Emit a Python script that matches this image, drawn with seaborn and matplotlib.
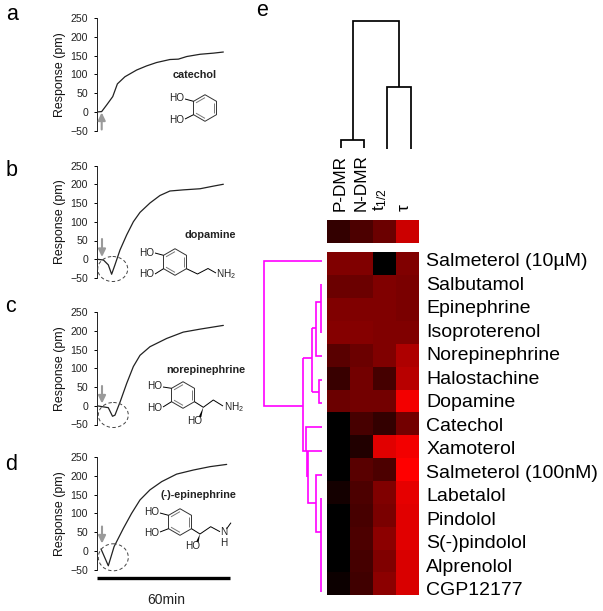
import numpy as np
import pandas as pd
import seaborn as sns
import matplotlib.pyplot as plt
from matplotlib.colors import LinearSegmentedColormap
from matplotlib.patches import Ellipse, Polygon

# time traces (minutes, pm)
catechol_t = [0, 2.1, 4.4, 7.1, 9.2, 12.6, 17.9, 22.4, 26.9, 32.9, 36.7, 40.5, 46.5, 52.5, 57]
catechol_y = [0, 1, 19, 41, 75, 94, 112, 123, 132, 140, 141, 148, 154, 157, 160]
dopamine_t = [0, 2.9, 5.1, 6.6, 8.1, 10.4, 13.4, 16.4, 19.4, 23.9, 28.4, 32.9, 38.9, 46.5, 52.5, 57]
dopamine_y = [0, -2, -15, -40, -15, 25, 65, 100, 125, 150, 170, 182, 185, 188, 195, 200]
norepi_t = [0, 5.1, 7.0, 8.1, 10.4, 13.4, 16.4, 19.4, 23.9, 31.4, 38.9, 46.5, 57]
norepi_y = [0, -5, -28, -25, 10, 60, 105, 135, 158, 180, 197, 205, 215]
epi_t = [1.8, 5.1, 7.7, 11.9, 15.6, 19.4, 23.9, 29.2, 35.9, 43.5, 51, 58.5]
epi_y = [5, -40, 11, 60, 100, 136, 163, 185, 205, 216, 225, 231]

y_ticks = [-50, 0, 50, 100, 150, 200, 250]

# heat map values (0 = black, 1 = red)
drugs = ['Salmeterol (10µM)', 'Salbutamol', 'Epinephrine', 'Isoproterenol', 'Norepinephrine',
         'Halostachine', 'Dopamine', 'Catechol', 'Xamoterol', 'Salmeterol (100nM)', 'Labetalol',
         'Pindolol', 'S(-)pindolol', 'Alprenolol', 'CGP12177']
p_dmr = [.50, .42, .50, .52, .35, .22, .42, 0, 0, 0, .08, 0, 0, 0, .05]
n_dmr = [.50, .42, .50, .52, .42, .45, .45, .28, .13, .35, .30, .28, .30, .27, .25]
t_half = [0, .50, .50, .50, .50, .27, .45, .20, .88, .30, .50, .48, .55, .50, .55]
tau = [.50, .48, .48, .50, .68, .72, .95, .45, .95, 1.0, .90, .88, .88, .85, .85]
strip_values = [.20, .30, .42, .80]
col_labels = ['P-DMR', 'N-DMR', 't$_{1/2}$', 'τ']

W, H = 603, 611
sns.set_style('white')
plt.rcParams['font.family'] = ['Liberation Sans', 'DejaVu Sans']
plt.rcParams['mathtext.default'] = 'regular'
plt.rcParams['text.color'] = 'black'
plt.rcParams['axes.labelcolor'] = '#111111'
plt.rcParams['xtick.color'] = 'black'
plt.rcParams['ytick.color'] = 'black'
plt.rcParams['axes.edgecolor'] = '#222222'

fig = plt.figure(figsize=(W / 100, H / 100), dpi=100)


def box(x0, y0, x1, y1):
    # pixel box -> figure fraction
    return [x0 / W, 1 - y1 / H, (x1 - x0) / W, (y1 - y0) / H]


# the four traces
panels = [(catechol_t, catechol_y, 18.3, 130.7),
          (dopamine_t, dopamine_y, 165.5, 278),
          (norepi_t, norepi_y, 312.3, 424.5),
          (epi_t, epi_y, 457.3, 569.5)]
for t, y, top, bottom in panels:
    ax = fig.add_axes(box(97, top, 230, bottom))
    sns.lineplot(x=t, y=y, color='#222222', lw=0.9, ax=ax)
    ax.set_xlim(0, 60)
    ax.set_ylim(-50, 250)
    ax.set_xticks([])
    ax.set_yticks(y_ticks)
    ax.tick_params(axis='y', left=True, length=2.5, width=0.7, labelsize=7.6, pad=4, labelcolor='#222222')
    ax.set_ylabel('Response (pm)', fontsize=8.9, labelpad=3)
    sns.despine(ax=ax, bottom=True)
    ax.spines['left'].set_linewidth(0.7)
    ax.patch.set_alpha(0)

# heat map and top strip
cmap = LinearSegmentedColormap.from_list('blackred', ['#000000', '#ff0000'])
df = pd.DataFrame({'P': p_dmr, 'N': n_dmr, 't': t_half, 'tau': tau}, index=drugs)
ax_h = fig.add_axes(box(327, 252.3, 419.3, 595.3))
sns.heatmap(df, cmap=cmap, vmin=0, vmax=1, cbar=False, xticklabels=False, yticklabels=False, ax=ax_h)
ax_h.yaxis.tick_right()
# the labels run a little wider than the rows
ax_h.set_yticks((260 + 23.5 * np.arange(len(drugs)) - 252.3) / 22.87)
ax_h.set_yticklabels(drugs, fontsize=14, rotation=0)
ax_h.tick_params(axis='y', length=0, pad=5)
ax_h.set_xlabel('')

ax_s = fig.add_axes(box(327, 220, 419.3, 242.7))
sns.heatmap(np.array([strip_values]), cmap=cmap, vmin=0, vmax=1, cbar=False, yticklabels=False, ax=ax_s)
ax_s.xaxis.tick_top()
ax_s.set_xticks((np.array([340, 361, 380, 404]) - 327) / 23.08)
ax_s.set_xticklabels(col_labels, rotation=90, fontsize=12.3)
ax_s.tick_params(axis='x', length=0, pad=6.5)

# overlay in pixel coordinates for annotations
ov = fig.add_axes([0, 0, 1, 1], zorder=10)
ov.set_xlim(0, W)
ov.set_ylim(H, 0)
ov.axis('off')

for s, x, y in [('a', 12, 14), ('b', 12, 170), ('c', 11, 306), ('d', 11, 464), ('e', 262, 11)]:
    ov.text(x, y, s, fontsize=15.5, ha='center', va='center')


def seg(points, color='k', lw=0.7):
    xs, ys = zip(*points)
    ov.plot(xs, ys, color=color, lw=lw, solid_capstyle='butt', solid_joinstyle='miter')


# gray stimulation arrows
for x0, y0, y1 in [(101.7, 129.5, 112.5), (102, 239, 257), (102, 386, 403.5), (102, 526.5, 543.5)]:
    ov.annotate('', xy=(x0, y1), xytext=(x0, y0),
                arrowprops=dict(arrowstyle='-|>,head_width=0.22,head_length=0.45', color='#9a9a9a',
                                lw=1.5, shrinkA=0, shrinkB=0))

# dashed circles round the dips
for cx, cy, h in [(112.7, 269, 25), (113.3, 415, 25), (113.3, 557.3, 27)]:
    ov.add_patch(Ellipse((cx, cy), 30, h, fill=False, ec='#444444', lw=0.7, ls=(0, (3.5, 2.5))))

# 60 min bar
seg([(97, 578), (230, 578)], lw=2.4)
ov.text(166.7, 600, '60min', fontsize=10, ha='center', va='center', color='#222222')

for s, x, y in [('catechol', 194.3, 75.3), ('dopamine', 210, 235),
                ('norepinephrine', 205.7, 370), ('(-)-epinephrine', 198.3, 495)]:
    ov.text(x, y, s, fontsize=7.8, weight='bold', ha='center', va='center', color='#222222')


def ring(cx, cy, r=13.3):
    ang = np.radians(np.arange(90, 450, 60))
    pts = [(cx + r * np.cos(a), cy - r * np.sin(a)) for a in ang]
    seg(pts + [pts[0]], color='#333333')
    for i in [0, 2, 4]:
        a, b = pts[i], pts[(i + 1) % 6]
        f = 0.78
        seg([(cx + f * (a[0] - cx), cy + f * (a[1] - cy)), (cx + f * (b[0] - cx), cy + f * (b[1] - cy))],
            color='#777777')


def atom(s, x, y, ha='center'):
    ov.text(x, y, s, fontsize=7.2, ha=ha, va='center', color='#222222')


def wedge(p0, p1):
    dx, dy = 1.3, 0
    ov.add_patch(Polygon([p0, (p1[0] - dx, p1[1] + dy), (p1[0] + dx, p1[1] - dy)], color='k', lw=0))


# catechol
ring(205, 108)
atom('HO', 177, 98)
atom('HO', 177, 120)
seg([(185, 99), (193.5, 101.3)])
seg([(185, 119), (193.5, 114.7)])

# dopamine
ring(175, 262)
atom('HO', 147, 253)
atom('HO', 147, 274)
seg([(155, 253), (163.5, 255.3)])
seg([(155, 274), (163.5, 268.7)])
seg([(186.5, 268.7), (197.5, 274), (208, 268.5), (216, 273)])
atom('NH$_2$', 215.5, 274.5, ha='left')

# norepinephrine
ring(183, 395)
atom('HO', 155, 386)
atom('HO', 155, 408)
seg([(163, 387), (171.5, 388.3)])
seg([(163, 407), (171.5, 401.7)])
seg([(194.5, 401.7), (203.3, 407.3), (213.3, 400), (223, 406)])
wedge((203.3, 407.3), (200, 417))
atom('NH$_2$', 223.5, 407.5, ha='left')
atom('HO', 195, 421)

# epinephrine
ring(180, 522)
atom('HO', 152, 511.7)
atom('HO', 152, 533)
seg([(160, 513), (168.5, 515.3)])
seg([(160, 532), (168.5, 528.7)])
seg([(191.5, 528.7), (200, 534), (210.7, 526.7), (220, 531.7)])
seg([(226.5, 529), (231, 522.7)])
wedge((200, 534), (197.3, 542))
atom('N', 223.3, 532)
atom('H', 223.3, 543)
atom('HO', 192.3, 546)

# column dendrogram
lw_d = 1.25
seg([(352.7, 140), (352.7, 21.3), (399, 21.3), (399, 86.7)], lw=lw_d)
seg([(341, 148), (341, 140), (364.3, 140), (364.3, 148)], lw=lw_d)
seg([(387.3, 148.5), (387.3, 86.7), (410.7, 86.7), (410.7, 148.5)], lw=lw_d)

# row dendrogram
mag = '#ff00ff'
for pts in [[(321.7, 261), (264, 261), (264, 406), (302.7, 406)],
            [(302.7, 358.3), (302.7, 451), (321.7, 451)],
            [(302.7, 358.3), (312.3, 358.3)],
            [(312.3, 327.7), (312.3, 391.7)],
            [(312.3, 327.7), (315.7, 327.7)],
            [(321, 301.7), (315.7, 301.7), (315.7, 356), (321.7, 356)],
            [(321, 284.3), (321, 333)],
            [(312.3, 391.7), (319, 391.7)],
            [(321.7, 380), (319, 380), (319, 403.3), (321.7, 403.3)],
            [(321.7, 427.3), (306, 427.3), (306, 451)],
            [(307.3, 451), (307.3, 476.7)],
            [(308.3, 451), (308.3, 502.7), (315.7, 502.7)],
            [(321.7, 475), (315.7, 475), (315.7, 531.7), (321, 531.7)],
            [(321, 498.3), (321, 591.7)]]:
    seg(pts, color=mag, lw=1.2)

fig.savefig('out.png', dpi=100)
